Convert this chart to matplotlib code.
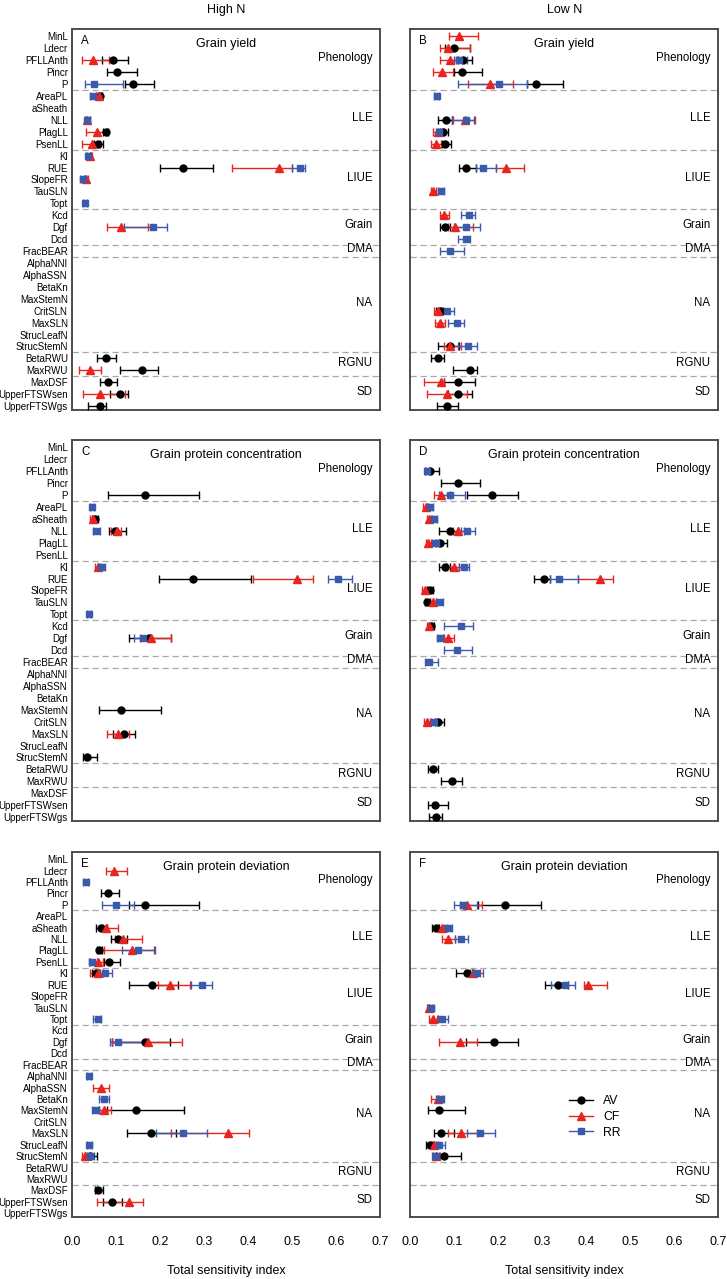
import matplotlib
matplotlib.use("Agg")
import matplotlib.pyplot as plt
from matplotlib.lines import Line2D
import numpy as np

plt.rcParams['font.family'] = ['Liberation Sans', 'DejaVu Sans']

# parameters, top to bottom
params = ["MinL", "Ldecr", "PFLLAnth", "Pincr", "P",
          "AreaPL", "aSheath", "NLL", "PlagLL", "PsenLL",
          "Kl", "RUE", "SlopeFR", "TauSLN", "Topt",
          "Kcd", "Dgf", "Dcd",
          "FracBEAR",
          "AlphaNNI", "AlphaSSN", "BetaKn", "MaxStemN", "CritSLN", "MaxSLN", "StrucLeafN", "StrucStemN",
          "BetaRWU", "MaxRWU",
          "MaxDSF", "UpperFTSWsen", "UpperFTSWgs"]
groups = ["Phenology", "LLE", "LIUE", "Grain", "DMA", "NA", "RGNU", "SD"]
group_sizes = [5, 5, 5, 3, 1, 8, 2, 3]

# (parameter, index, lower, upper)
A_AV = [("PFLLAnth", 0.094, 0.069, 0.127), ("Pincr", 0.102, 0.080, 0.148), ("P", 0.138, 0.121, 0.187),
        ("AreaPL", 0.063, 0.058, 0.068), ("PlagLL", 0.077, 0.071, 0.082), ("PsenLL", 0.058, 0.051, 0.070),
        ("RUE", 0.252, 0.200, 0.320), ("BetaRWU", 0.077, 0.056, 0.100), ("MaxRWU", 0.160, 0.109, 0.195),
        ("MaxDSF", 0.081, 0.063, 0.103), ("UpperFTSWsen", 0.109, 0.086, 0.127),
        ("UpperFTSWgs", 0.064, 0.037, 0.077)]
A_CF = [("PFLLAnth", 0.047, 0.023, 0.083), ("AreaPL", 0.061, 0.055, 0.066), ("NLL", 0.035, 0.030, 0.040),
        ("PlagLL", 0.056, 0.031, 0.079), ("PsenLL", 0.046, 0.023, 0.064), ("Kl", 0.041, 0.035, 0.046),
        ("RUE", 0.470, 0.363, 0.499), ("SlopeFR", 0.032, 0.027, 0.037), ("Dgf", 0.111, 0.080, 0.172),
        ("MaxRWU", 0.041, 0.015, 0.066), ("UpperFTSWsen", 0.064, 0.024, 0.120)]
A_RR = [("P", 0.050, 0.029, 0.115), ("AreaPL", 0.048, 0.042, 0.054), ("NLL", 0.035, 0.029, 0.041),
        ("Kl", 0.037, 0.031, 0.043), ("RUE", 0.518, 0.500, 0.530), ("SlopeFR", 0.024, 0.019, 0.029),
        ("Topt", 0.030, 0.025, 0.035), ("Dgf", 0.184, 0.118, 0.216)]

B_AV = [("Ldecr", 0.101, 0.080, 0.136), ("PFLLAnth", 0.121, 0.110, 0.140), ("Pincr", 0.119, 0.100, 0.164),
        ("P", 0.287, 0.265, 0.347), ("NLL", 0.081, 0.063, 0.095), ("PlagLL", 0.076, 0.068, 0.086),
        ("PsenLL", 0.080, 0.072, 0.093), ("RUE", 0.127, 0.111, 0.149), ("Dgf", 0.080, 0.068, 0.091),
        ("CritSLN", 0.068, 0.060, 0.076), ("StrucStemN", 0.090, 0.064, 0.112), ("BetaRWU", 0.064, 0.047, 0.077),
        ("MaxRWU", 0.136, 0.097, 0.152), ("MaxDSF", 0.110, 0.077, 0.148), ("UpperFTSWsen", 0.108, 0.087, 0.140),
        ("UpperFTSWgs", 0.085, 0.061, 0.108)]
B_CF = [("MinL", 0.111, 0.089, 0.154), ("Ldecr", 0.086, 0.069, 0.136), ("PFLLAnth", 0.091, 0.069, 0.105),
        ("Pincr", 0.072, 0.053, 0.098), ("P", 0.182, 0.131, 0.233), ("NLL", 0.125, 0.098, 0.148),
        ("PlagLL", 0.063, 0.052, 0.072), ("PsenLL", 0.060, 0.047, 0.070), ("RUE", 0.219, 0.195, 0.259),
        ("TauSLN", 0.053, 0.047, 0.060), ("Kcd", 0.078, 0.068, 0.088), ("Dgf", 0.102, 0.087, 0.144),
        ("CritSLN", 0.063, 0.055, 0.070), ("MaxSLN", 0.068, 0.057, 0.079), ("StrucStemN", 0.091, 0.078, 0.117),
        ("MaxDSF", 0.070, 0.031, 0.077), ("UpperFTSWsen", 0.085, 0.038, 0.129)]
B_RR = [("PFLLAnth", 0.112, 0.100, 0.130), ("P", 0.202, 0.110, 0.265), ("AreaPL", 0.061, 0.055, 0.066),
        ("NLL", 0.127, 0.095, 0.145), ("PlagLL", 0.067, 0.058, 0.078), ("RUE", 0.167, 0.149, 0.195),
        ("TauSLN", 0.070, 0.063, 0.078), ("Kcd", 0.134, 0.117, 0.148), ("Dgf", 0.127, 0.100, 0.160),
        ("Dcd", 0.127, 0.110, 0.136), ("FracBEAR", 0.091, 0.068, 0.123), ("CritSLN", 0.083, 0.070, 0.100),
        ("MaxSLN", 0.106, 0.087, 0.123), ("StrucStemN", 0.131, 0.110, 0.152)]

C_AV = [("P", 0.167, 0.082, 0.289), ("aSheath", 0.052, 0.046, 0.058), ("NLL", 0.098, 0.083, 0.123),
        ("RUE", 0.274, 0.197, 0.406), ("Dgf", 0.175, 0.130, 0.225), ("MaxStemN", 0.111, 0.061, 0.203),
        ("MaxSLN", 0.118, 0.094, 0.143), ("StrucStemN", 0.033, 0.026, 0.056)]
C_CF = [("aSheath", 0.047, 0.041, 0.053), ("NLL", 0.102, 0.088, 0.112), ("Kl", 0.060, 0.053, 0.066),
        ("RUE", 0.511, 0.412, 0.548), ("Dgf", 0.180, 0.155, 0.225), ("MaxSLN", 0.105, 0.079, 0.130)]
C_RR = [("AreaPL", 0.045, 0.040, 0.050), ("NLL", 0.055, 0.047, 0.064), ("Kl", 0.066, 0.058, 0.074),
        ("RUE", 0.605, 0.581, 0.636), ("Topt", 0.039, 0.035, 0.043), ("Dgf", 0.161, 0.142, 0.173)]

D_AV = [("PFLLAnth", 0.045, 0.035, 0.066), ("Pincr", 0.108, 0.071, 0.159), ("P", 0.187, 0.130, 0.246),
        ("NLL", 0.092, 0.067, 0.110), ("PlagLL", 0.068, 0.058, 0.083), ("Kl", 0.080, 0.066, 0.090),
        ("RUE", 0.305, 0.281, 0.318), ("SlopeFR", 0.045, 0.039, 0.053), ("TauSLN", 0.039, 0.033, 0.046),
        ("Kcd", 0.048, 0.043, 0.055), ("CritSLN", 0.064, 0.056, 0.077), ("BetaRWU", 0.052, 0.042, 0.064),
        ("MaxRWU", 0.096, 0.070, 0.119), ("UpperFTSWsen", 0.057, 0.040, 0.087),
        ("UpperFTSWgs", 0.058, 0.043, 0.073)]
D_CF = [("P", 0.070, 0.055, 0.092), ("AreaPL", 0.036, 0.030, 0.042), ("aSheath", 0.044, 0.038, 0.050),
        ("NLL", 0.110, 0.098, 0.123), ("PlagLL", 0.042, 0.036, 0.048), ("Kl", 0.100, 0.085, 0.112),
        ("RUE", 0.431, 0.381, 0.461), ("SlopeFR", 0.034, 0.028, 0.040), ("TauSLN", 0.053, 0.046, 0.060),
        ("Kcd", 0.044, 0.038, 0.050), ("Dgf", 0.087, 0.078, 0.099), ("CritSLN", 0.038, 0.031, 0.045)]
D_RR = [("PFLLAnth", 0.039, 0.033, 0.045), ("P", 0.092, 0.065, 0.125), ("AreaPL", 0.045, 0.039, 0.052),
        ("aSheath", 0.055, 0.048, 0.062), ("NLL", 0.130, 0.115, 0.148), ("PlagLL", 0.058, 0.050, 0.066),
        ("Kl", 0.123, 0.112, 0.134), ("RUE", 0.339, 0.318, 0.381), ("TauSLN", 0.067, 0.060, 0.075),
        ("Kcd", 0.116, 0.077, 0.144), ("Dgf", 0.068, 0.061, 0.075), ("Dcd", 0.106, 0.077, 0.142),
        ("FracBEAR", 0.044, 0.034, 0.064), ("CritSLN", 0.055, 0.048, 0.062)]

E_AV = [("Pincr", 0.081, 0.065, 0.107), ("P", 0.167, 0.130, 0.289), ("aSheath", 0.066, 0.054, 0.080),
        ("NLL", 0.104, 0.089, 0.125), ("PlagLL", 0.062, 0.056, 0.068), ("PsenLL", 0.083, 0.073, 0.109),
        ("Kl", 0.054, 0.046, 0.062), ("RUE", 0.181, 0.130, 0.240), ("Dgf", 0.165, 0.090, 0.222),
        ("MaxStemN", 0.145, 0.080, 0.255), ("MaxSLN", 0.180, 0.124, 0.237), ("StrucStemN", 0.040, 0.030, 0.056),
        ("MaxDSF", 0.060, 0.052, 0.071), ("UpperFTSWsen", 0.092, 0.070, 0.113)]
E_CF = [("Ldecr", 0.095, 0.077, 0.124), ("aSheath", 0.077, 0.070, 0.104), ("NLL", 0.115, 0.098, 0.160),
        ("PlagLL", 0.136, 0.073, 0.186), ("PsenLL", 0.058, 0.040, 0.070), ("Kl", 0.060, 0.042, 0.070),
        ("RUE", 0.223, 0.196, 0.268), ("Dgf", 0.172, 0.090, 0.249), ("AlphaSSN", 0.067, 0.048, 0.083),
        ("MaxStemN", 0.073, 0.061, 0.089), ("MaxSLN", 0.354, 0.225, 0.402), ("StrucStemN", 0.030, 0.022, 0.040),
        ("UpperFTSWsen", 0.130, 0.056, 0.161)]
E_RR = [("PFLLAnth", 0.031, 0.026, 0.036), ("P", 0.100, 0.069, 0.141), ("PlagLL", 0.151, 0.113, 0.189),
        ("PsenLL", 0.046, 0.039, 0.056), ("Kl", 0.076, 0.064, 0.092), ("RUE", 0.295, 0.270, 0.319),
        ("Topt", 0.058, 0.047, 0.066), ("Dgf", 0.104, 0.086, 0.170), ("AlphaNNI", 0.038, 0.033, 0.043),
        ("BetaKn", 0.073, 0.061, 0.083), ("MaxStemN", 0.054, 0.046, 0.061), ("MaxSLN", 0.252, 0.190, 0.307),
        ("StrucLeafN", 0.039, 0.033, 0.045), ("StrucStemN", 0.042, 0.034, 0.050)]

F_AV = [("P", 0.216, 0.155, 0.298), ("aSheath", 0.058, 0.050, 0.066), ("Kl", 0.129, 0.105, 0.140),
        ("RUE", 0.337, 0.307, 0.360), ("Dgf", 0.191, 0.127, 0.246), ("MaxStemN", 0.066, 0.042, 0.125),
        ("MaxSLN", 0.070, 0.055, 0.100), ("StrucLeafN", 0.045, 0.036, 0.053), ("StrucStemN", 0.078, 0.060, 0.115)]
F_CF = [("P", 0.130, 0.114, 0.163), ("aSheath", 0.073, 0.063, 0.083), ("NLL", 0.087, 0.072, 0.102),
        ("Kl", 0.144, 0.130, 0.160), ("RUE", 0.404, 0.396, 0.448), ("TauSLN", 0.044, 0.038, 0.050),
        ("Topt", 0.053, 0.044, 0.062), ("Dgf", 0.114, 0.067, 0.152), ("BetaKn", 0.063, 0.048, 0.072),
        ("MaxSLN", 0.116, 0.087, 0.152), ("StrucLeafN", 0.055, 0.047, 0.064), ("StrucStemN", 0.060, 0.052, 0.068)]
F_RR = [("P", 0.121, 0.100, 0.152), ("aSheath", 0.087, 0.078, 0.096), ("NLL", 0.117, 0.102, 0.131),
        ("Kl", 0.150, 0.137, 0.167), ("RUE", 0.352, 0.320, 0.375), ("TauSLN", 0.048, 0.042, 0.054),
        ("Topt", 0.073, 0.064, 0.087), ("BetaKn", 0.068, 0.060, 0.077), ("MaxSLN", 0.159, 0.129, 0.193),
        ("StrucLeafN", 0.067, 0.058, 0.080), ("StrucStemN", 0.058, 0.051, 0.066)]

panel_titles = ["Grain yield", "Grain yield", "Grain protein concentration", "Grain protein concentration",
                "Grain protein deviation", "Grain protein deviation"]
panel_letters = ["A", "B", "C", "D", "E", "F"]
panel_data = [(A_AV, A_CF, A_RR), (B_AV, B_CF, B_RR), (C_AV, C_CF, C_RR),
              (D_AV, D_CF, D_RR), (E_AV, E_CF, E_RR), (F_AV, F_CF, F_RR)]
series_names = ["AV", "CF", "RR"]
series_colors = ["black", "#e8241f", "#3a5aab"]
series_markers = ["o", "^", "s"]
xticks = [0.0, 0.1, 0.2, 0.3, 0.4, 0.5, 0.6, 0.7]

W, H = 727, 1279
fig = plt.figure(figsize=(W / 100, H / 100), dpi=100)


def rect(x0, x1, y0, y1):
    return [x0 / W, 1 - y1 / H, (x1 - x0) / W, (y1 - y0) / H]


cols = [(72, 380), (410, 718)]
rows = [(29, 410), (440, 821), (852, 1217)]

row_of = {p: i for i, p in enumerate(params)}
bounds = np.cumsum(group_sizes)
starts = bounds - np.array(group_sizes)

axes = []
for k in range(6):
    r, c = divmod(k, 2)
    ax = fig.add_axes(rect(cols[c][0], cols[c][1], rows[r][0], rows[r][1]))
    axes.append(ax)
    ax.set_xlim(0, 0.7)
    ax.set_ylim(len(params) - 1 + 0.33, -0.62)

    # group separators and group names
    for b in bounds[:-1]:
        ax.axhline(b - 0.5, color="#a8a8a8", ls=(0, (5, 3)), lw=0.9, zorder=1)
    for g, s, n in zip(groups, starts, group_sizes):
        ax.text(0.975, s + (n - 1) / 2 - 0.15, g, transform=ax.get_yaxis_transform(),
                ha="right", va="center", fontsize=8.3)

    for data, col, mk in zip(panel_data[k], series_colors, series_markers):
        y = [row_of[d[0]] for d in data]
        v = np.array([d[1] for d in data])
        lo = np.array([d[2] for d in data])
        hi = np.array([d[3] for d in data])
        ms = 5.5 if mk == "^" else 5
        ax.errorbar(v, y, xerr=[v - lo, hi - v], fmt=mk, color=col, ecolor=col,
                    ms=ms, elinewidth=1.0, capsize=3, capthick=1.0, zorder=3)

    ax.text(0.35, 0.67, panel_titles[k], ha="center", va="center", fontsize=9)
    ax.text(0.03, 0.4, panel_letters[k], transform=ax.get_yaxis_transform(),
            ha="left", va="center", fontsize=8.3)

    ax.set_yticks(range(len(params)))
    if c == 0:
        ax.set_yticklabels(params, fontsize=7.0)
    else:
        ax.set_yticklabels([])
    ax.tick_params(axis="y", length=0, pad=3)
    ax.set_xticks(xticks)
    if r == 2:
        ax.set_xticklabels(["%.1f" % t for t in xticks], fontsize=9)
        ax.set_xlabel("Total sensitivity index", fontsize=9, labelpad=12)
    else:
        ax.set_xticklabels([])
    ax.tick_params(axis="x", length=0, pad=14)
    for sp in ax.spines.values():
        sp.set_color("#4d4d4d")
        sp.set_linewidth(1.4)

fig.text(226 / W, 1 - 10 / H, "High N", ha="center", va="center", fontsize=9)
fig.text(565 / W, 1 - 10 / H, "Low N", ha="center", va="center", fontsize=9)

handles = [Line2D([], [], color=c, marker=m, ms=5.5 if m == "^" else 5, lw=1.0)
           for c, m in zip(series_colors, series_markers)]
axes[5].legend(handles, series_names, loc="center left", bbox_to_anchor=(0.48, 0.274),
               frameon=False, fontsize=8.8, handlelength=2.0, labelspacing=0.3, handletextpad=0.8)

fig.savefig("out.png", dpi=100)
